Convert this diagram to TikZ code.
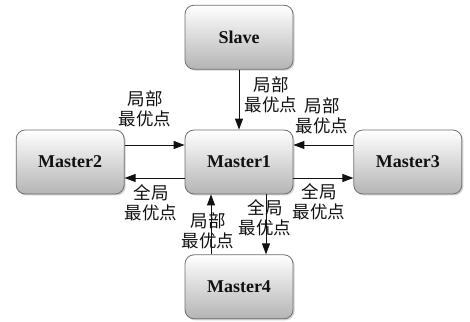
\documentclass[tikz,border=0pt]{standalone}
\usepackage{fontspec}
\setmainfont{Liberation Serif}
\newfontfamily\cjk{Noto Sans CJK SC}
\usepackage{xcolor}
\definecolor{edge}{HTML}{6E6E6E}
\definecolor{shade}{HTML}{B4B4B4}
\definecolor{ink}{HTML}{111111}
\usepackage{tikz}
\usetikzlibrary{arrows.meta,positioning,shadows}
\newcommand{\zyd}[1]{#1\\最优点}

\begin{document}
\begin{tikzpicture}[x=1pt,y=1pt,
  box/.style={draw=edge,line width=0.8pt,rounded corners=9pt,top color=white,
    bottom color=shade,minimum width=108pt,minimum height=64pt,
    font=\fontsize{18}{20}\selectfont\bfseries,text=ink,
    drop shadow={shadow xshift=1.5pt,shadow yshift=-1.5pt,fill=black!35}},
  lab/.style={align=center,inner sep=0pt,text=ink,
    font=\cjk\fontsize{17.5}{20}\selectfont},
  arr/.style={-{Triangle[length=11pt,width=8pt]},line width=0.9pt,ink},
  node distance=60pt]
\useasboundingbox (0,0) rectangle (470,321);
\node[box] (m1) at (239,159) {Master1};
\node[box,above=of m1] (slave) {Slave};
\node[box,left=of m1] (m2) {Master2};
\node[box,right=of m1] (m3) {Master3};
\node[box,below=of m1] (m4) {Master4};
\draw[arr] (slave) -- (m1);
\draw[arr] ([yshift=17pt]m2.east) -- ([yshift=17pt]m1.west);
\draw[arr] ([yshift=-16pt]m1.west) -- ([yshift=-16pt]m2.east);
\draw[arr] ([yshift=17pt]m3.west) -- ([yshift=17pt]m1.east);
\draw[arr] ([yshift=-16pt]m1.east) -- ([yshift=-16pt]m3.west);
\draw[arr] ([xshift=27pt]m1.south) -- ([xshift=27pt]m4.north);
\draw[arr] ([xshift=-28pt]m4.north) -- ([xshift=-28pt]m1.south);
\node[lab] (l1) at (271,226) {\zyd{局部}};
\node[lab] (l2) at (145,212) {\zyd{局部}};
\node[lab] (l3) at (151,118) {\zyd{全局}};
\node[lab] (l4) at (322,205) {\zyd{局部}};
\node[lab] (l5) at (319,119) {\zyd{全局}};
\node[lab] (l6) at (265,103) {\zyd{全局}};
\node[lab] (l7) at (208,90) {\zyd{局部}};
\end{tikzpicture}
\end{document}
